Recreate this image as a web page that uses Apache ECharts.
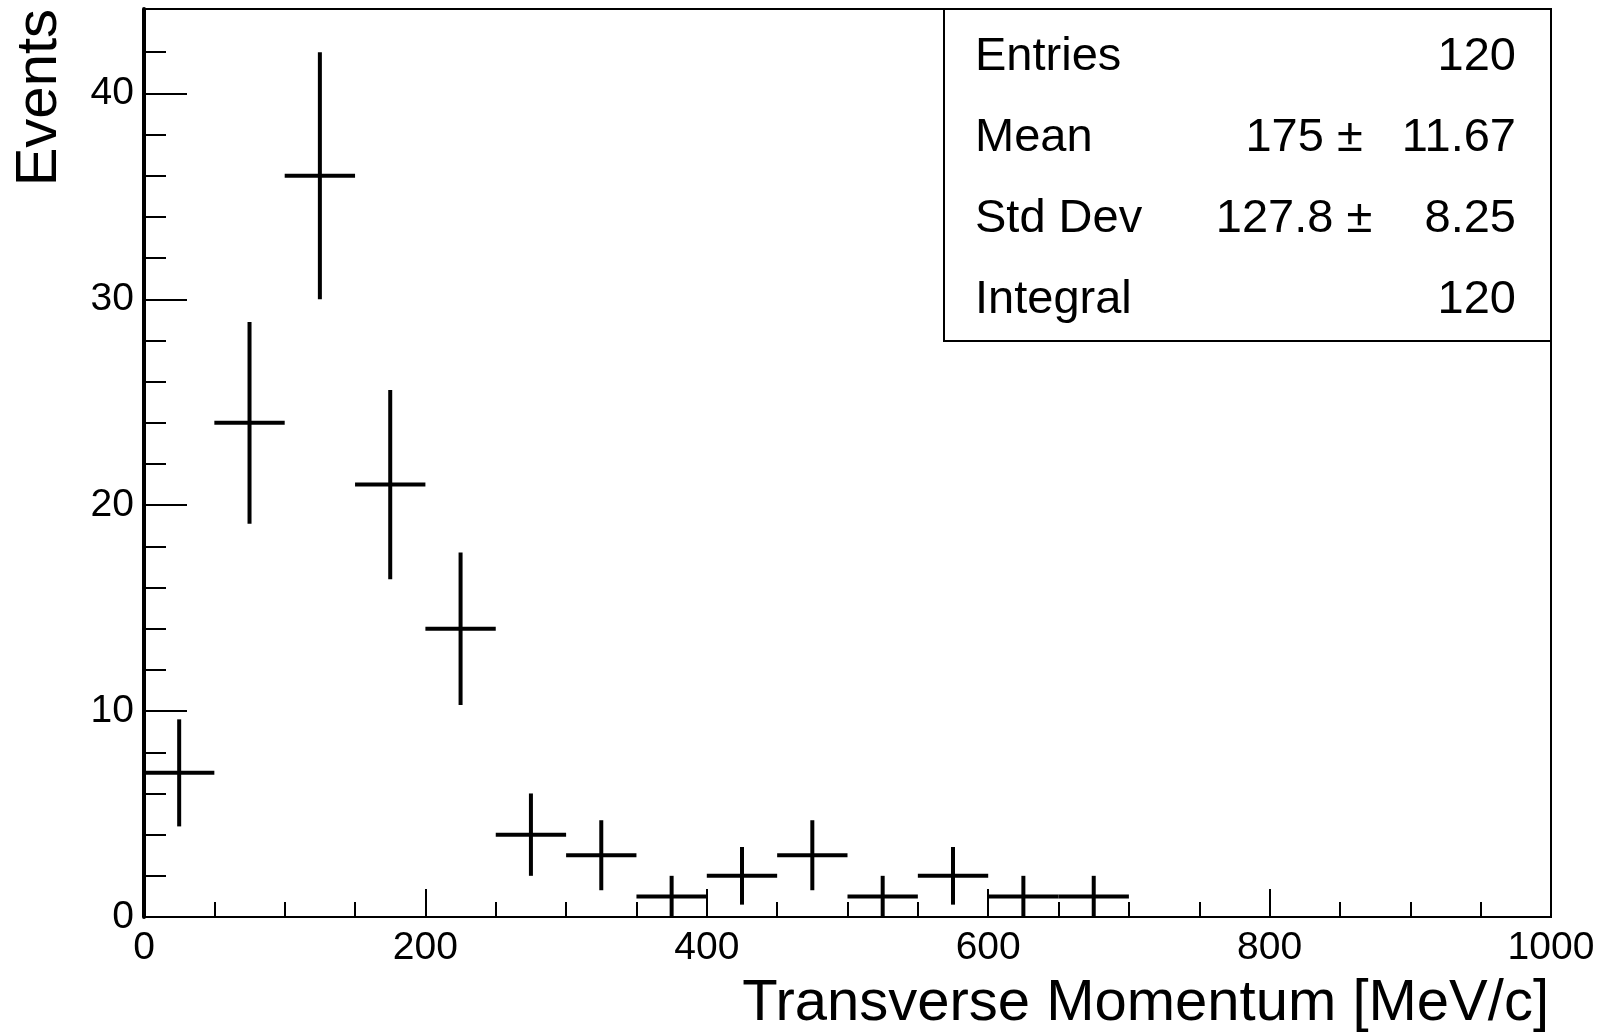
<!DOCTYPE html>
<html>
<head>
<meta charset="utf-8">
<script src="https://cdn.jsdelivr.net/npm/echarts@6/dist/echarts.min.js"></script>
<style>
  html, body { margin: 0; padding: 0; background: #fff; }
  #chart_container { width: 1601px; height: 1033px; }
</style>
</head>
<body>
<div id="chart_container"></div>
<script>
// histogram bins (lower / upper edge in MeV/c)
const binLow  = [0, 50, 100, 150, 200, 250, 300, 350, 400, 450, 500, 550, 600, 650]
const binHigh = [50, 100, 150, 200, 250, 300, 350, 400, 450, 500, 550, 600, 650, 700]
const counts  = [7, 24, 36, 21, 14, 4, 3, 1, 2, 3, 1, 2, 1, 1]
const errors  = [2.6, 4.9, 6, 4.6, 3.7, 2, 1.7, 1, 1.4, 1.7, 1, 1.4, 1, 1]

// axis ticks
const xMajorTicks = [0, 200, 400, 600, 800, 1000]
const yMajorTicks = [0, 10, 20, 30, 40]
const yMinorTicks = [2, 4, 6, 8, 12, 14, 16, 18, 22, 24, 26, 28, 32, 34, 36, 38, 42]

// stats box
const statNames  = ["Entries", "Mean", "Std Dev", "Integral"]
const statValues = ["120", "175 \u00b1   11.67", "127.8 \u00b1    8.25", "120"]

const FONT = "'Liberation Sans', Arial, Helvetica, sans-serif"

function buildData(){
    let data = []
    for (let i = 0; i < counts.length; i++){
        data.push([binLow[i], binHigh[i], counts[i], errors[i]])
    }
    return data
}

function renderCross(params, api){
    let x0 = api.value(0)
    let x1 = api.value(1)
    let y = api.value(2)
    let e = api.value(3)
    let xc = (x0 + x1) / 2

    let left = api.coord([x0, y])
    let right = api.coord([x1, y])
    let top = api.coord([xc, y + e])
    let bottom = api.coord([xc, y - e])

    let style = { stroke: "#000", lineWidth: 4 }
    return {
        type: "group",
        children: [
            { type: "line", shape: { x1: left[0], y1: left[1], x2: right[0], y2: right[1] }, style: style },
            { type: "line", shape: { x1: top[0], y1: top[1], x2: bottom[0], y2: bottom[1] }, style: style }
        ]
    }
}

function statsGraphic(){
    let rowY = [57, 138, 219, 300]
    let children = [
        {
            type: "rect",
            shape: { x: 944, y: 9, width: 607, height: 332 },
            style: { fill: "#fff", stroke: "#000", lineWidth: 2 },
            z: 10
        }
    ]
    for (let i = 0; i < statNames.length; i++){
        children.push({
            type: "text", x: 975, y: rowY[i], z: 11,
            style: { text: statNames[i], font: "47px " + FONT, fill: "#000", textAlign: "left", textVerticalAlign: "middle" }
        })
        children.push({
            type: "text", x: 1516, y: rowY[i], z: 11,
            style: { text: statValues[i], font: "47px " + FONT, fill: "#000", textAlign: "right", textVerticalAlign: "middle" }
        })
    }
    return children
}

let chart = echarts.init(document.getElementById("chart_container"))

let option = {
    backgroundColor: "#fff",
    animation: false,
    grid: {
        left: 144, right: 50, top: 9, bottom: 116,
        show: true, borderColor: "#000", borderWidth: 2
    },
    xAxis: {
        type: "value",
        min: 0, max: 1000, interval: 200,
        axisLine: { show: true, lineStyle: { color: "#000", width: 2 } },
        axisTick: { show: true, inside: true, length: 28, lineStyle: { color: "#000", width: 2 } },
        minorTick: { show: true, splitNumber: 4, length: 15, lineStyle: { color: "#000", width: 2 } },
        axisLabel: {
            customValues: xMajorTicks, fontSize: 39, fontFamily: FONT, color: "#000", margin: 12,
            formatter: v => String(v)
        },
        splitLine: { show: false }
    },
    yAxis: [
        {
            type: "value",
            min: 0, max: 44.1,
            axisLine: { show: true, lineStyle: { color: "#000", width: 4 } },
            axisTick: { show: true, inside: true, length: 43, customValues: yMajorTicks, lineStyle: { color: "#000", width: 2 } },
            axisLabel: { customValues: yMajorTicks, fontSize: 39, fontFamily: FONT, color: "#000", margin: 10, formatter: v => String(v) },
            splitLine: { show: false }
        },
        {
            // minor ticks only
            type: "value",
            position: "left",
            min: 0, max: 44.1,
            axisLine: { show: false },
            axisTick: { show: true, inside: true, length: 22, customValues: yMinorTicks, lineStyle: { color: "#000", width: 2 } },
            axisLabel: { show: false },
            splitLine: { show: false }
        }
    ],
    graphic: [
        {
            type: "text", x: 1549, y: 1004,
            style: { text: "Transverse Momentum [MeV/c]", font: "58px " + FONT, fill: "#000", textAlign: "right", textVerticalAlign: "middle" }
        },
        {
            type: "text", x: 40, y: 9, rotation: Math.PI / 2,
            style: { text: "Events", font: "58px " + FONT, fill: "#000", textAlign: "right", textVerticalAlign: "middle" }
        },
        {
            type: "group",
            children: statsGraphic()
        }
    ],
    series: [
        {
            name: "Transverse Momentum",
            type: "custom",
            xAxisIndex: 0,
            yAxisIndex: 0,
            renderItem: renderCross,
            data: buildData(),
            encode: { x: [0, 1], y: 2 },
            z: 5
        }
    ]
}

chart.setOption(option)
</script>
</body>
</html>
